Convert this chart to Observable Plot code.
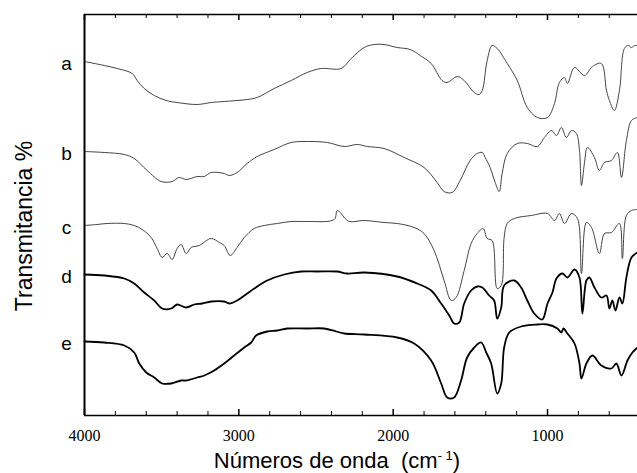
<!DOCTYPE html>
<html><head><meta charset="utf-8">
<script src="https://cdn.jsdelivr.net/npm/d3@7"></script>
<script src="https://cdn.jsdelivr.net/npm/@observablehq/plot@0.6"></script>
<style>body{margin:0;background:#fff} .serif text{font-family:"Liberation Serif","DejaVu Serif",serif}</style>
</head><body><div id="chart"></div>
<script>
const seriesNames = ["a","b","c","d","e"];
const majorTicks = [4000,3000,2000,1000];
const minorTicks = [3800,3600,3400,3200,2800,2600,2400,2200,1800,1600,1400,1200,800,600];
// [wavenumber, relative transmittance (offset)]
const specA = [[4000,354],[3872,350],[3788,347],[3691,342],[3659,335],[3613,327],[3548,320],[3471,315],[3400,313],[3270,311],[3179,313],[3095,314],[2946,316],[2881,318],[2771,327],[2661,335],[2557,343],[2466,347],[2337,347],[2272,357],[2188,368],[2123,371],[2059,371],[1974,368],[1890,366],[1825,360],[1754,352],[1683,335],[1650,333],[1585,339],[1540,335],[1475,323],[1443,321],[1423,325],[1391,355],[1359,370],[1326,367],[1261,352],[1196,335],[1131,308],[1066,298],[1000,298],[955,312],[923,333],[890,338],[871,332],[825,348],[761,340],[709,349],[651,352],[618,325],[599,315],[567,305],[534,325],[502,367],[476,370],[456,368],[437,370],[417,370]];
const specB = [[4000,264],[3872,263],[3742,261],[3678,257],[3594,245],[3503,234],[3432,234],[3387,238],[3341,236],[3270,239],[3224,239],[3179,243],[3095,242],[3062,240],[3011,243],[2946,252],[2881,259],[2771,266],[2661,273],[2557,274],[2427,273],[2317,269],[2233,271],[2168,269],[2059,267],[1929,258],[1800,248],[1715,233],[1670,224],[1618,223],[1566,235],[1502,255],[1456,262],[1423,263],[1404,258],[1372,248],[1339,233],[1313,224],[1294,242],[1261,262],[1196,272],[1131,272],[1066,269],[1020,278],[975,285],[942,280],[910,288],[878,278],[845,285],[813,282],[793,265],[780,230],[761,252],[741,268],[696,258],[664,245],[631,253],[586,255],[547,263],[521,238],[489,275],[456,295],[417,298]];
const specC = [[4000,190],[3918,191],[3853,192],[3742,192],[3678,190],[3626,186],[3568,178],[3529,167],[3497,158],[3464,162],[3432,156],[3400,167],[3374,171],[3341,162],[3309,168],[3257,170],[3179,177],[3127,173],[3095,170],[3056,160],[3011,168],[2965,178],[2900,187],[2836,190],[2751,192],[2661,194],[2557,194],[2382,196],[2363,205],[2337,202],[2317,198],[2285,194],[2188,195],[2059,193],[1974,192],[1864,188],[1800,182],[1735,165],[1670,135],[1624,115],[1592,118],[1540,145],[1495,172],[1456,182],[1417,187],[1391,177],[1359,175],[1326,127],[1300,130],[1281,178],[1261,192],[1216,197],[1106,200],[1000,202],[955,195],[923,202],[890,192],[845,202],[806,197],[780,142],[748,193],[715,188],[664,162],[631,182],[586,183],[534,192],[515,157],[489,200],[456,205],[417,206]];
const specD = [[4000,141],[3872,140],[3742,137],[3678,132],[3613,123],[3548,115],[3497,107],[3438,107],[3400,111],[3341,108],[3289,111],[3238,112],[3179,114],[3095,114],[3062,112],[3011,115],[2946,122],[2900,127],[2816,135],[2706,141],[2596,144],[2492,144],[2363,144],[2298,142],[2188,143],[1974,139],[1845,132],[1754,125],[1689,112],[1637,100],[1605,92],[1572,93],[1540,112],[1495,125],[1456,129],[1423,128],[1378,120],[1346,115],[1326,97],[1300,108],[1281,130],[1216,135],[1171,128],[1131,115],[1086,102],[1034,96],[1000,112],[968,123],[942,137],[903,142],[871,138],[825,146],[793,138],[774,102],[748,135],[729,138],[696,128],[651,118],[618,120],[599,107],[580,115],[560,105],[534,118],[515,112],[489,138],[456,158],[417,163]];
const specE = [[4000,74],[3872,73],[3742,70],[3678,63],[3645,52],[3600,43],[3548,38],[3497,32],[3438,32],[3374,35],[3341,35],[3270,38],[3224,40],[3160,45],[3095,52],[3030,60],[2965,68],[2920,73],[2888,80],[2816,84],[2751,85],[2687,87],[2557,87],[2447,87],[2369,84],[2317,82],[2188,81],[1974,78],[1864,72],[1754,55],[1689,32],[1650,18],[1605,18],[1560,35],[1521,58],[1475,68],[1430,73],[1397,63],[1365,52],[1326,22],[1300,32],[1281,68],[1248,83],[1171,89],[1066,91],[1000,91],[936,87],[910,83],[897,87],[871,82],[825,72],[793,52],[780,37],[748,52],[709,60],[651,50],[586,47],[554,52],[521,40],[482,55],[450,63],[417,68]];

const spectra = [specA, specB, specC, specD, specE];
const rows = spectra.flatMap((s, i) => s.map(([wn, t]) => ({series: seriesNames[i], wn, t})));
const thin = rows.filter(d => "abc".includes(d.series));
const thick = rows.filter(d => "de".includes(d.series));
const labels = seriesNames.map((n, i) => ({name: n, t: spectra[i][0][1]}));

const plot = Plot.plot({
  width: 637, height: 473,
  marginLeft: 84, marginRight: 0, marginTop: 14, marginBottom: 58,
  x: {domain: [4000, 417], axis: null},
  y: {domain: [0, 401], axis: null},
  style: {background: "#fff", color: "#000"},
  marks: [
    Plot.line(thin, {x: "wn", y: "t", z: "series", stroke: "#444", strokeWidth: 1, curve: "catmull-rom"}),
    Plot.line(thick, {x: "wn", y: "t", z: "series", stroke: "#000", strokeWidth: 1.8, curve: "catmull-rom"}),
    Plot.ruleY([0, 401], {stroke: "#000", strokeWidth: 1.6}),
    Plot.ruleX([4000], {y1: 0, y2: 401, stroke: "#000", strokeWidth: 2}),
    Plot.ruleX(minorTicks, {y1: 0, y2: 4, stroke: "#000", strokeWidth: 1}),
    Plot.ruleX(majorTicks, {y1: 0, y2: 6, stroke: "#000", strokeWidth: 1.5}),
    Plot.ruleX(minorTicks, {y1: 401, y2: 397, stroke: "#000", strokeWidth: 1}),
    Plot.ruleX(majorTicks, {y1: 401, y2: 395, stroke: "#000", strokeWidth: 1.5}),
    Plot.text(majorTicks, {x: d => d, y: 0, dy: 20, text: d => String(d), fontSize: 16,
      fontFamily: "Liberation Serif", textAnchor: "middle", fill: "#000", className: "serif"}),
    Plot.text(labels, {x: 4000, y: "t", text: "name", dx: -18, dy: 2, fontSize: 19,
      fontFamily: "Liberation Sans", textAnchor: "middle", fill: "#000"})
  ]
});

const svg = d3.select(plot);
svg.append("text")
  .attr("transform", "translate(32,226) rotate(-90)")
  .attr("text-anchor", "middle")
  .attr("font-family", "Liberation Sans").attr("font-size", 23).attr("fill", "#000")
  .text("Transmitancia %");
const xt = svg.append("text")
  .attr("x", 337).attr("y", 468)
  .attr("font-family", "Liberation Sans").attr("font-size", 22).attr("fill", "#000");
xt.append("tspan").text("Números de onda  (cm");
xt.append("tspan").attr("font-size", 13).attr("dy", -8).text("- 1");
xt.append("tspan").attr("dy", 8).text(")");

document.getElementById("chart").appendChild(plot);
</script>
</body></html>
